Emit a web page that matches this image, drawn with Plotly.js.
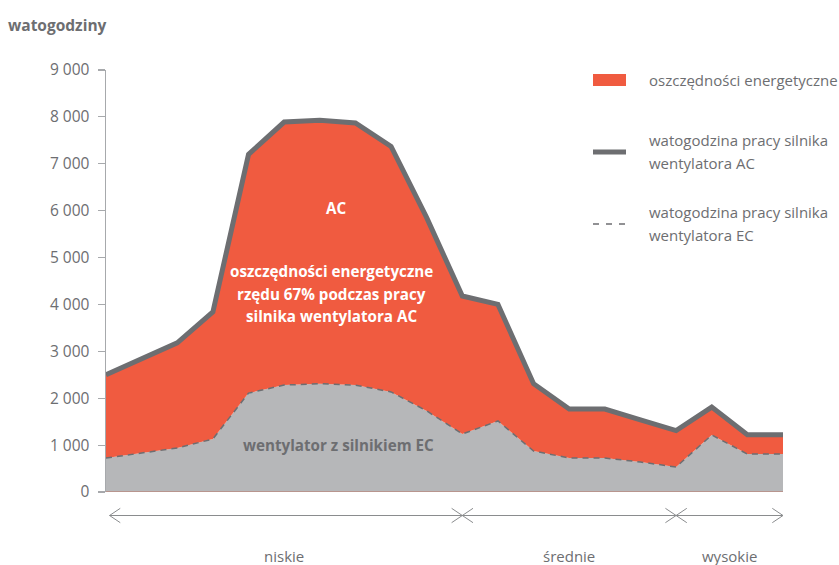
<!DOCTYPE html>
<html>
<head>
<meta charset="utf-8">
<script src="https://cdn.plot.ly/plotly-3.0.1.min.js"></script>
<style>html,body{margin:0;padding:0;background:#fff}#chart{width:839px;height:565px}</style>
</head>
<body>
<div id="chart"></div>
<script>
// ---- data ----
var xPos = [0, 2, 3, 4, 5, 6, 7, 8, 9, 10, 11, 12, 13, 14, 15, 16, 17, 18, 19];
var acWh = [2500, 3180, 3840, 7200, 7890, 7930, 7870, 7370, 5850, 4180, 4000, 2310, 1770, 1770, 1540, 1310, 1810, 1220, 1220];
var ecWh = [725, 938, 1130, 2110, 2280, 2310, 2280, 2135, 1730, 1237, 1515, 874, 725, 725, 640, 533, 1216, 810, 810];
var yTickVals = [0, 1000, 2000, 3000, 4000, 5000, 6000, 7000, 8000, 9000];
var yTickText = ['0', '1 000', '2 000', '3 000', '4 000', '5 000', '6 000', '7 000', '8 000', '9 000'];
var sections = ['niskie', 'średnie', 'wysokie'];
var sectionEdges = [0, 10, 16, 19];
var legendNames = ['oszczędności energetyczne', 'watogodzina pracy silnika', 'wentylatora AC', 'watogodzina pracy silnika', 'wentylatora EC'];

var RED = '#F05B40', GRAYFILL = '#B6B7B9', LINE = '#6D6E71', TXT = '#6D6E71';
var FONT = 'Open Sans, sans-serif';

var traces = [
  {x: xPos, y: ecWh, type: 'scatter', mode: 'lines', fill: 'tozeroy', fillcolor: GRAYFILL,
   line: {color: LINE, width: 1.5, dash: '6px,5px'}, showlegend: false, hoverinfo: 'skip'},
  {x: xPos, y: acWh, type: 'scatter', mode: 'lines', fill: 'tonexty', fillcolor: RED,
   line: {color: LINE, width: 5}, showlegend: false, hoverinfo: 'skip'}
];

// plot geometry (px) for paper conversions
var L = 106, R = 783, T = 70, B = 492;
function px2paperX(px) { return (px - L) / (R - L); }
function px2paperY(py) { return (B - py) / (B - T); }

var shapes = [];
var annotations = [];
// baseline
shapes.push({type: 'line', xref: 'paper', yref: 'y', x0: 0, x1: 1, y0: 0, y1: 0, line: {color: '#B98A80', width: 1.5}, layer: 'above'});

// section arrows
var ay = px2paperY(515.5), ahx = 0.3, ahy = 0.017;
var c = '#8A8C8E';
shapes.push({type: 'line', xref: 'x', yref: 'paper', x0: sectionEdges[0] + 0.1, x1: sectionEdges[3], y0: ay, y1: ay, line: {color: c, width: 1}});
function head(xTip, dir) { // dir -1 = pointing left, +1 = pointing right
  var xb = xTip - dir * ahx;
  shapes.push({type: 'path', xref: 'x', yref: 'paper',
    path: 'M' + xb + ',' + (ay + ahy) + ' L' + xTip + ',' + ay + ' L' + xb + ',' + (ay - ahy),
    line: {color: c, width: 1}});
}
head(sectionEdges[0] + 0.1, -1);
head(sectionEdges[3], 1);
for (var i = 1; i < sectionEdges.length - 1; i++) { head(sectionEdges[i], 1); head(sectionEdges[i], -1); }
for (var s = 0; s < sections.length; s++) {
  annotations.push({xref: 'x', yref: 'paper', x: (sectionEdges[s] + sectionEdges[s + 1]) / 2, y: px2paperY(556),
    text: sections[s], showarrow: false, font: {family: FONT, size: 15, color: TXT}, xanchor: 'center', yanchor: 'middle'});
}

// custom legend
shapes.push({type: 'rect', xref: 'paper', yref: 'paper', x0: px2paperX(593), x1: px2paperX(626), y0: px2paperY(86), y1: px2paperY(74), fillcolor: RED, line: {width: 0}});
shapes.push({type: 'line', xref: 'paper', yref: 'paper', x0: px2paperX(593), x1: px2paperX(626), y0: px2paperY(152), y1: px2paperY(152), line: {color: LINE, width: 5}});
shapes.push({type: 'line', xref: 'paper', yref: 'paper', x0: px2paperX(593), x1: px2paperX(627), y0: px2paperY(224), y1: px2paperY(224), line: {color: LINE, width: 1.5, dash: '6px,7px'}});
var legY = [80, 140, 163, 212, 235];
for (var j = 0; j < legendNames.length; j++) {
  annotations.push({xref: 'paper', yref: 'paper', x: px2paperX(647), y: px2paperY(legY[j]), text: legendNames[j],
    showarrow: false, xanchor: 'left', yanchor: 'middle', font: {family: FONT, size: 15, color: TXT}});
}

// in-plot labels
function lbl(text, px, py, color) {
  annotations.push({xref: 'paper', yref: 'paper', x: px2paperX(px), y: px2paperY(py), text: '<b>' + text + '</b>',
    showarrow: false, xanchor: 'center', yanchor: 'middle', font: {family: FONT, size: 15.2, color: color}});
}
lbl('AC', 336, 208, '#FFFFFF');
lbl('oszczędności energetyczne', 331, 271, '#FFFFFF');
lbl('rzędu 67% podczas pracy', 331, 294, '#FFFFFF');
lbl('silnika wentylatora AC', 331, 316, '#FFFFFF');
lbl('wentylator z silnikiem EC', 338, 445, TXT);

var layout = {
  width: 839, height: 565,
  margin: {l: L, r: 839 - R, t: T, b: 565 - B, pad: 0},
  paper_bgcolor: '#FFFFFF', plot_bgcolor: '#FFFFFF',
  font: {family: FONT, color: TXT, size: 15},
  title: {text: '<b>watogodziny</b>', xref: 'container', yref: 'container', x: 8 / 839, xanchor: 'left',
    y: 1 - 26 / 565, yanchor: 'middle', font: {family: FONT, size: 15.5, color: TXT}},
  xaxis: {range: [0, 19], visible: false, fixedrange: true},
  yaxis: {range: [0, 9000], tickvals: yTickVals, ticktext: yTickText, showgrid: false, zeroline: false,
    showline: true, linecolor: '#A7A9AC', linewidth: 1.5, ticks: 'outside', ticklen: 7, tickcolor: '#A7A9AC',
    tickwidth: 1.2, tickfont: {family: FONT, size: 15.5, color: TXT}, ticklabelstandoff: 5, fixedrange: true},
  shapes: shapes,
  annotations: annotations,
  showlegend: false
};

Plotly.newPlot('chart', traces, layout, {displayModeBar: false, staticPlot: true});
</script>
</body>
</html>
